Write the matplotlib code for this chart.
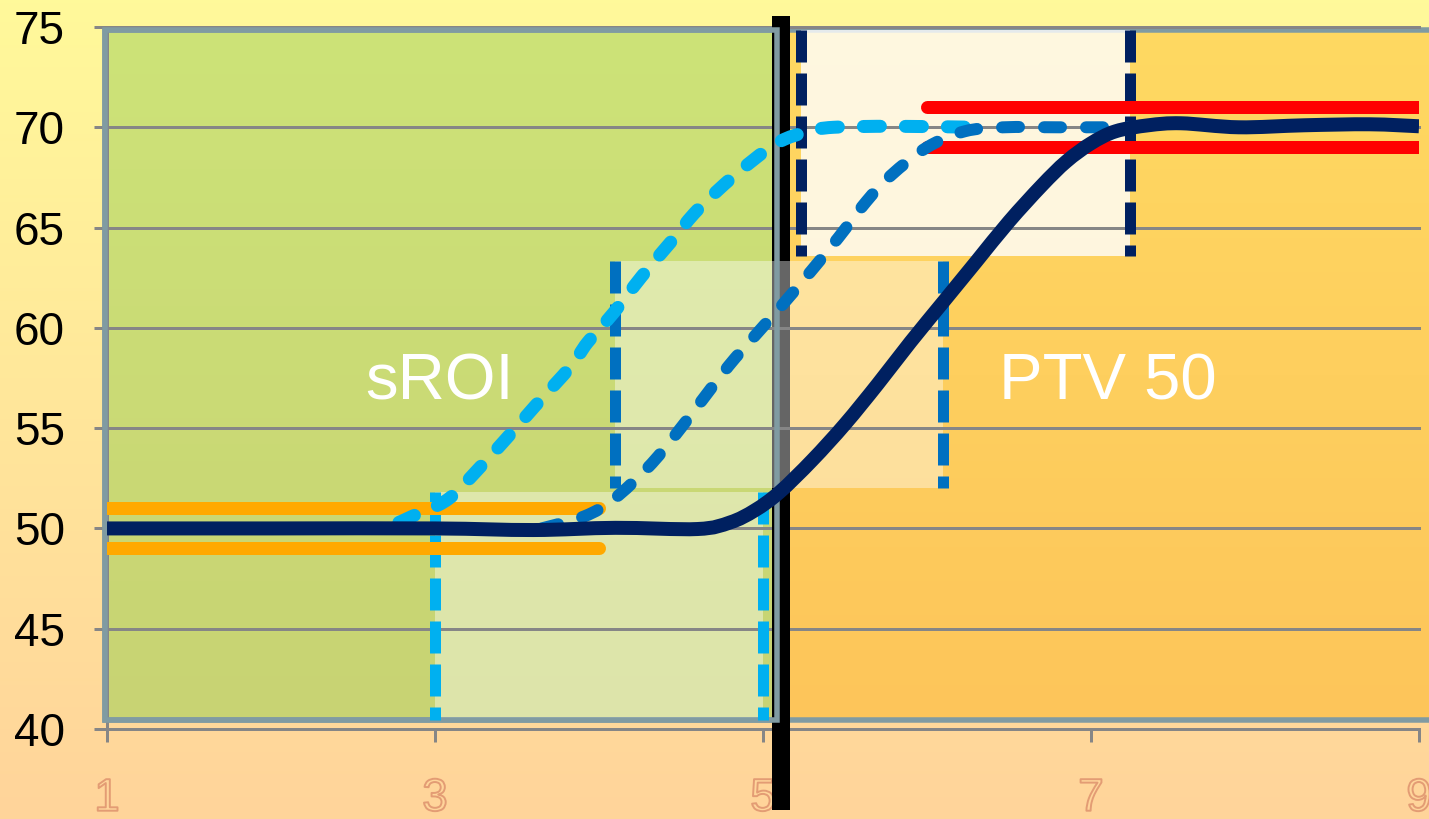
import numpy as np
import matplotlib
matplotlib.use("Agg")
import matplotlib.pyplot as plt
from matplotlib import patheffects as pe
from matplotlib.patches import Rectangle, PathPatch
from matplotlib.path import Path

plt.rcParams['font.family'] = ['Liberation Sans', 'DejaVu Sans']
plt.rcParams['lines.scale_dashes'] = False

# ---------------- data ----------------
x_ticks = [1, 3, 5, 7, 9]
y_ticks = [40, 45, 50, 55, 60, 65, 70, 75]

navy_x = [1.0, 2.0, 3.0, 3.6, 4.1, 4.6, 4.8, 4.95, 5.1, 5.3, 5.5, 5.7, 5.9, 6.1, 6.3,
          6.5, 6.7, 6.85, 7.0, 7.15, 7.35, 7.55, 7.9, 8.3, 8.7, 9.0]
navy_y = [50.0, 50.0, 50.0, 49.92, 50.03, 49.97, 50.3, 50.9, 51.8, 53.4, 55.2, 57.2, 59.3, 61.3, 63.3,
          65.3, 67.1, 68.3, 69.2, 69.8, 70.1, 70.2, 70.0, 70.1, 70.15, 70.05]

lblue_x = [2.78, 2.86, 3.08, 3.28, 3.47, 3.61, 3.83, 3.93, 4.09, 4.26, 4.44, 4.58, 4.73, 4.87,
           5.01, 5.13, 5.28, 5.43, 5.8, 6.3]
lblue_y = [50.3, 50.6, 51.46, 53.1, 54.8, 56.1, 58.1, 59.27, 60.76, 62.56, 64.3, 65.7, 66.9, 67.9,
           68.8, 69.4, 69.8, 70.0, 70.05, 70.0]

mblue_x = [3.65, 3.91, 4.09, 4.30, 4.46, 4.62, 4.79, 4.95, 5.13, 5.29, 5.46, 5.63, 5.78, 6.0,
           6.23, 6.47, 6.8, 7.25]
mblue_y = [50.0, 50.6, 51.46, 53.05, 54.6, 56.3, 58.1, 59.6, 61.26, 62.8, 64.5, 66.3, 67.6, 69.0,
           69.8, 70.0, 70.0, 70.0]

orange_levels = [51, 49]
orange_span = [1.0, 4.0]
red_levels = [71, 69]
red_span = [6.0, 9.0]

# regions (sROI, PTV 50)
regions_x0 = [0.985, 5.11]
regions_x1 = [5.085, 9.1]
regions_y0 = [40.45, 40.45]
regions_y1 = [74.85, 74.85]
region_top_colors = ['#CDE378', '#FFD962']
region_bottom_colors = ['#C8D373', '#FDC55A']
region_labels = ['sROI', 'PTV 50']
label_x = [3.03, 7.10]
label_y = [56.45, 56.45]

# light boxes
box_x0 = [3.0, 4.1, 5.23]
box_x1 = [5.0, 6.1, 7.24]
box_y0 = [40.45, 52.02, 63.6]
box_y1 = [51.82, 63.33, 74.85]
box_alpha = [0.4, 0.4, 0.8]
box_colors = ['#00B0F0', '#0070C0', '#002060']

divider_x = 5.11
divider_y = [35.96, 75.55]

# ---------------- helpers ----------------
W, H = 1429, 819
px = lambda v: v * 0.72  # pixels -> points


def hex2rgb(h):
    h = h.lstrip('#')
    return np.array([int(h[i:i + 2], 16) / 255 for i in (0, 2, 4)])


def smooth_path(xs, ys):
    """Smoothed (Catmull-Rom style Bezier) path through the given points."""
    pts = np.column_stack([xs, ys]).astype(float)
    n = len(pts)
    verts = [pts[0]]
    codes = [Path.MOVETO]
    for i in range(n - 1):
        p0 = pts[i - 1] if i > 0 else pts[i]
        p1 = pts[i]
        p2 = pts[i + 1]
        p3 = pts[i + 2] if i + 2 < n else pts[i + 1]
        c1 = p1 + (p2 - p0) / 6.0
        c2 = p2 - (p3 - p1) / 6.0
        verts += [c1, c2, p2]
        codes += [Path.CURVE4] * 3
    return Path(np.array(verts), codes)


# ---------------- figure ----------------
fig = plt.figure(figsize=(W / 100, H / 100), dpi=100)

bg = fig.add_axes([0, 0, 1, 1])
top_c, bot_c = hex2rgb('#FFF99A'), hex2rgb('#FFD49A')
t = np.linspace(0, 1, 256)[:, None, None]
grad = top_c[None, None, :] * (1 - t) + bot_c[None, None, :] * t
bg.imshow(grad, aspect='auto', extent=[0, 1, 0, 1])
bg.axis('off')
bg.set_zorder(0)

ax = fig.add_axes([107 / W, 90 / H, (1419 - 107) / W, (729 - 27) / H])
ax.set_zorder(1)
ax.patch.set_alpha(0)

# region rectangles with vertical gradient
for x0, x1, y0, y1, ct, cb in zip(regions_x0, regions_x1, regions_y0, regions_y1,
                                  region_top_colors, region_bottom_colors):
    a, b = hex2rgb(ct), hex2rgb(cb)
    g = a[None, None, :] * (1 - t) + b[None, None, :] * t
    im = ax.imshow(g, aspect='auto', extent=[x0, x1, y0, y1], zorder=1)
    im.set_clip_on(False)
    ax.add_patch(Rectangle((x0, y0), x1 - x0, y1 - y0, facecolor='none',
                           edgecolor='#809BA2', lw=px(5.5), zorder=1.1, clip_on=False))

# black divider: the part behind the middle light box sits under it,
# the rest lies above the grid
mid_lo, mid_hi = box_y0[1], box_y1[1]
for (ya, yb), z in [((divider_y[0], mid_lo), 3.6), ((mid_lo, mid_hi), 2.0),
                    ((mid_hi, divider_y[1]), 3.6)]:
    ax.plot([divider_x, divider_x], [ya, yb], color='black', lw=px(18),
            solid_capstyle='butt', zorder=z, clip_on=False)
# green region edge over divider
ax.add_patch(Rectangle((regions_x0[0], regions_y0[0]), regions_x1[0] - regions_x0[0],
                       regions_y1[0] - regions_y0[0], facecolor='none',
                       edgecolor='#809BA2', lw=px(5.5), zorder=3.65, clip_on=False))

# light boxes + dashed vertical edges
for x0, x1, y0, y1, al, c in zip(box_x0, box_x1, box_y0, box_y1, box_alpha, box_colors):
    ax.add_patch(Rectangle((x0, y0), x1 - x0, y1 - y0, facecolor='white', alpha=al,
                           edgecolor='none', zorder=3))
    for xv in (x0, x1):
        ln, = ax.plot([xv, xv], [y1, y0], color=c, lw=px(11), zorder=4,
                      solid_capstyle='butt', dash_capstyle='butt')
        ln.set_dashes((px(32), px(11)))

# tolerance bands
for yv in orange_levels:
    ax.plot(orange_span, [yv, yv], color='#FFA900', lw=px(13), solid_capstyle='round', zorder=5)
for yv in red_levels:
    ax.plot(red_span, [yv, yv], color='#FF0000', lw=px(13), solid_capstyle='round', zorder=5)

# dashed curves
for xs, ys, col, lw, z in [(lblue_x, lblue_y, '#00B0F0', 13, 6),
                           (mblue_x, mblue_y, '#0070C0', 12, 6.1)]:
    pp = PathPatch(smooth_path(xs, ys), facecolor='none', edgecolor=col, lw=px(lw),
                   linestyle=(0, (px(17), px(25))), capstyle='round', joinstyle='round',
                   zorder=z)
    ax.add_patch(pp)

# main curve
ax.add_patch(PathPatch(smooth_path(navy_x, navy_y), facecolor='none', edgecolor='#002060',
                       lw=px(14), capstyle='butt', joinstyle='round', zorder=7))

# region labels
for s, xv, yv in zip(region_labels, label_x, label_y):
    ax.text(xv, yv, s, color='white', fontsize=47, ha='center', va='baseline', zorder=8)

# axes styling
ax.set_xlim(1, 9)
ax.set_ylim(40, 75)
ax.set_xticks(x_ticks)
ax.set_yticks(y_ticks)
ax.set_xticklabels([str(v) for v in x_ticks])
ax.set_yticklabels([str(v) for v in y_ticks])
for side in ('top', 'right'):
    ax.spines[side].set_visible(False)
for side in ('left', 'bottom'):
    ax.spines[side].set_color('#868686')
    ax.spines[side].set_linewidth(px(3))
    ax.spines[side].set_zorder(2.5)
ax.tick_params(axis='both', direction='out', length=px(13), width=px(3), color='#868686')
ax.tick_params(axis='y', labelsize=33, labelcolor='black', pad=21)
ax.tick_params(axis='x', labelsize=33, pad=25)
ax.yaxis.grid(True, color='#868686', lw=px(3))
ax.yaxis.set_zorder(3.5)
ax.xaxis.set_zorder(1.5)
for gl in ax.yaxis.get_gridlines():
    gl.set_clip_on(False)
for lbl in ax.get_xticklabels():
    lbl.set_color('none')
    lbl.set_path_effects([pe.Stroke(linewidth=1.4, foreground='#E39C74')])

fig.savefig('out.png', dpi=100)
